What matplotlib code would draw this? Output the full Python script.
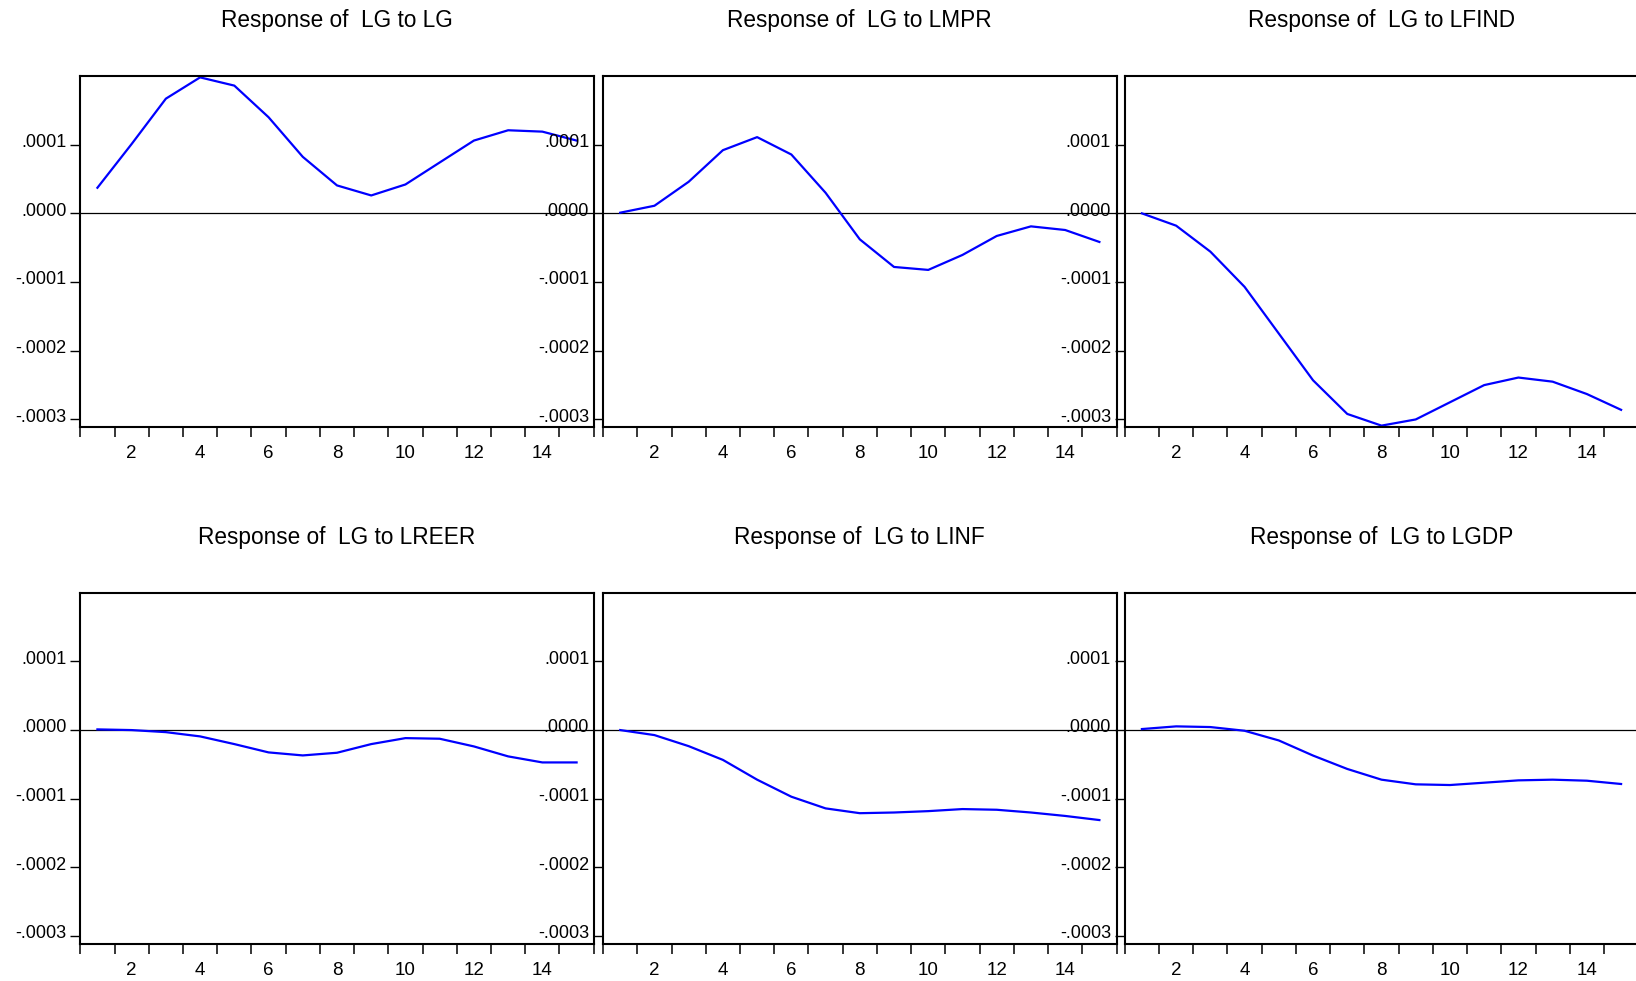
import matplotlib
matplotlib.use("Agg")
import matplotlib.pyplot as plt
from matplotlib.ticker import FixedLocator, FuncFormatter
from matplotlib.transforms import ScaledTranslation

plt.rcParams["font.family"] = ["Liberation Sans", "DejaVu Sans"]

periods = list(range(1, 16))
titles = ["Response of  LG to LG", "Response of  LG to LMPR", "Response of  LG to LFIND",
          "Response of  LG to LREER", "Response of  LG to LINF", "Response of  LG to LGDP"]

lg_lg = [0.0000373, 0.000101, 0.000167, 0.000198, 0.000186, 0.000140, 0.0000823, 0.0000407,
         0.0000261, 0.0000421, 0.0000741, 0.000106, 0.000121, 0.000119, 0.000106]
lg_lmpr = [0.000001, 0.0000111, 0.000046, 0.000092, 0.000111, 0.0000857, 0.000030, -0.0000378,
           -0.000078, -0.0000823, -0.0000605, -0.0000329, -0.0000189, -0.0000242, -0.0000416]
lg_lfind = [0.0, -0.0000179, -0.0000557, -0.000107, -0.000175, -0.000243, -0.000292, -0.000309,
            -0.000300, -0.000275, -0.000250, -0.000239, -0.000245, -0.000263, -0.000286]
lg_lreer = [0.000001, 0.0, -0.000003, -0.0000092, -0.0000204, -0.0000325, -0.0000369, -0.000033,
            -0.0000204, -0.0000117, -0.0000126, -0.0000238, -0.0000383, -0.0000471, -0.0000471]
lg_linf = [0.0, -0.0000073, -0.0000234, -0.0000434, -0.0000722, -0.000097, -0.000114, -0.000121,
           -0.000120, -0.000118, -0.000115, -0.000116, -0.000120, -0.000125, -0.000131]
lg_lgdp = [0.0000015, 0.0000054, 0.0000044, -0.000001, -0.0000151, -0.0000371, -0.0000566, -0.0000722,
           -0.000079, -0.00008, -0.0000766, -0.0000732, -0.0000722, -0.0000737, -0.0000785]
series = [lg_lg, lg_lmpr, lg_lfind, lg_lreer, lg_linf, lg_lgdp]

ytick_vals = [0.0001, 0.0, -0.0001, -0.0002, -0.0003]
xtick_vals = [2, 4, 6, 8, 10, 12, 14]


def fmt(v, pos):
    if abs(v) < 1e-12:
        return ".0000"
    s = "%.4f" % v
    return s.replace("0.", ".", 1)


W, H = 1636, 981
fig = plt.figure(figsize=(W / 100, H / 100), dpi=100)

lefts = [80.3, 603.1, 1124.8]
tops = [76.0, 592.7]
aw, ah = 513.4, 351.0
lift = ScaledTranslation(0, 3 / 72, fig.dpi_scale_trans)

for i in range(6):
    r, c = divmod(i, 3)
    ax = fig.add_axes([lefts[c] / W, 1 - (tops[r] + ah) / H, aw / W, ah / H])
    ax.axhline(0, color="black", lw=0.9, zorder=1)
    ax.plot(periods, series[i], color="#0000ff", lw=1.6, zorder=2)
    ax.set_xlim(0.5, 15.5)
    ax.set_ylim(-0.000311, 0.0002)
    ax.yaxis.set_major_locator(FixedLocator(ytick_vals))
    ax.yaxis.set_major_formatter(FuncFormatter(fmt))
    ax.xaxis.set_major_locator(FixedLocator(xtick_vals))
    ax.xaxis.set_minor_locator(FixedLocator([k + 0.5 for k in range(0, 16)]))
    ax.tick_params(axis="x", which="major", length=0, pad=13, labelsize=13.5)
    ax.tick_params(axis="x", which="minor", direction="out", length=7.5, width=1.1)
    ax.tick_params(axis="y", direction="out", length=7, width=1.0, pad=3, labelsize=13)
    for lab in ax.get_yticklabels():
        lab.set_transform(lab.get_transform() + lift)
    for sp in ax.spines.values():
        sp.set_linewidth(1.5)
    ax.set_title(titles[i], fontsize=16.3, pad=35)

fig.savefig("out.png", dpi=100)
